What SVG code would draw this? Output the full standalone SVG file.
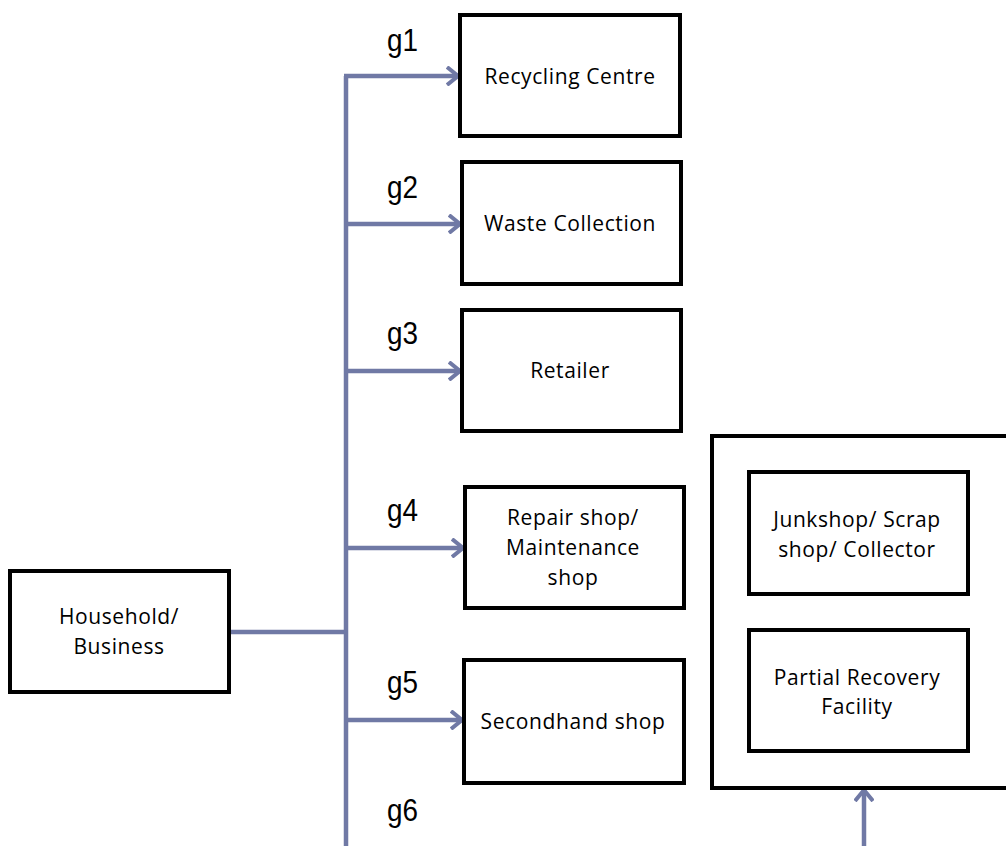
<svg xmlns="http://www.w3.org/2000/svg" width="1006" height="846" viewBox="0 0 1006 846">
  <style>
    .box { fill: #ffffff; stroke: #000000; stroke-width: 4; }
    .lbl { font-family: "Open Sans", "Noto Sans", sans-serif; font-size: 21px; letter-spacing: 0.6px; fill: #000000; text-anchor: middle; }
    .tag { font-family: "Liberation Sans", Arial, sans-serif; font-size: 31px; fill: #000000; }
    .wire { fill: none; stroke: #7079A5; stroke-width: 4.5; }
  </style>
  <defs>
    <marker id="chev" viewBox="0 0 14 20" refX="12" refY="10" markerWidth="14" markerHeight="20" markerUnits="userSpaceOnUse" orient="auto">
      <path d="M1,1 L12,10 L1,19" fill="none" stroke="#7079A5" stroke-width="4" stroke-linejoin="miter"/>
    </marker>
  </defs>

  <rect width="1006" height="846" fill="#ffffff"/>

  <!-- connectors -->
  <g id="connectors">
    <path class="wire" d="M230,632 H346"/>
    <path class="wire" d="M346,846 V76"/>
    <path class="wire" d="M344,76 H458" marker-end="url(#chev)"/>
    <path class="wire" d="M346,224 H460" marker-end="url(#chev)"/>
    <path class="wire" d="M346,371 H460" marker-end="url(#chev)"/>
    <path class="wire" d="M346,548 H463" marker-end="url(#chev)"/>
    <path class="wire" d="M346,720 H462" marker-end="url(#chev)"/>
    <path class="wire" d="M864,846 V790" marker-end="url(#chev)"/>
  </g>

  <!-- flow tags -->
  <g id="tags">
    <text class="tag" x="387" y="51" textLength="31" lengthAdjust="spacingAndGlyphs">g1</text>
    <text class="tag" x="387" y="198" textLength="31" lengthAdjust="spacingAndGlyphs">g2</text>
    <text class="tag" x="387" y="344" textLength="31" lengthAdjust="spacingAndGlyphs">g3</text>
    <text class="tag" x="387" y="521" textLength="31" lengthAdjust="spacingAndGlyphs">g4</text>
    <text class="tag" x="387" y="693" textLength="31" lengthAdjust="spacingAndGlyphs">g5</text>
    <text class="tag" x="387" y="821" textLength="31" lengthAdjust="spacingAndGlyphs">g6</text>
  </g>

  <g id="household">
    <rect class="box" x="10" y="571" width="219" height="121"/>
    <text class="lbl" x="119" y="624">Household/</text>
    <text class="lbl" x="119" y="654">Business</text>
  </g>

  <g id="recycling-centre">
    <rect class="box" x="460" y="15" width="220" height="121"/>
    <text class="lbl" x="570" y="84">Recycling Centre</text>
  </g>

  <g id="waste-collection">
    <rect class="box" x="462" y="162" width="219" height="122"/>
    <text class="lbl" x="570" y="231">Waste Collection</text>
  </g>

  <g id="retailer">
    <rect class="box" x="462" y="310" width="219" height="121"/>
    <text class="lbl" x="570" y="378">Retailer</text>
  </g>

  <g id="repair-shop">
    <rect class="box" x="465" y="487" width="219" height="121"/>
    <text class="lbl" x="573" y="525">Repair shop/</text>
    <text class="lbl" x="573" y="555">Maintenance</text>
    <text class="lbl" x="573" y="585">shop</text>
  </g>

  <g id="secondhand-shop">
    <rect class="box" x="464" y="660" width="220" height="123"/>
    <text class="lbl" x="573" y="729">Secondhand shop</text>
  </g>

  <g id="recovery-group">
    <rect class="box" x="712" y="436" width="310" height="352"/>
  </g>

  <g id="junkshop">
    <rect class="box" x="749" y="472" width="219" height="122"/>
    <text class="lbl" x="857" y="527">Junkshop/ Scrap</text>
    <text class="lbl" x="857" y="557">shop/ Collector</text>
  </g>

  <g id="partial-recovery">
    <rect class="box" x="749" y="630" width="219" height="121"/>
    <text class="lbl" x="857" y="685">Partial Recovery</text>
    <text class="lbl" x="857" y="714">Facility</text>
  </g>
</svg>
